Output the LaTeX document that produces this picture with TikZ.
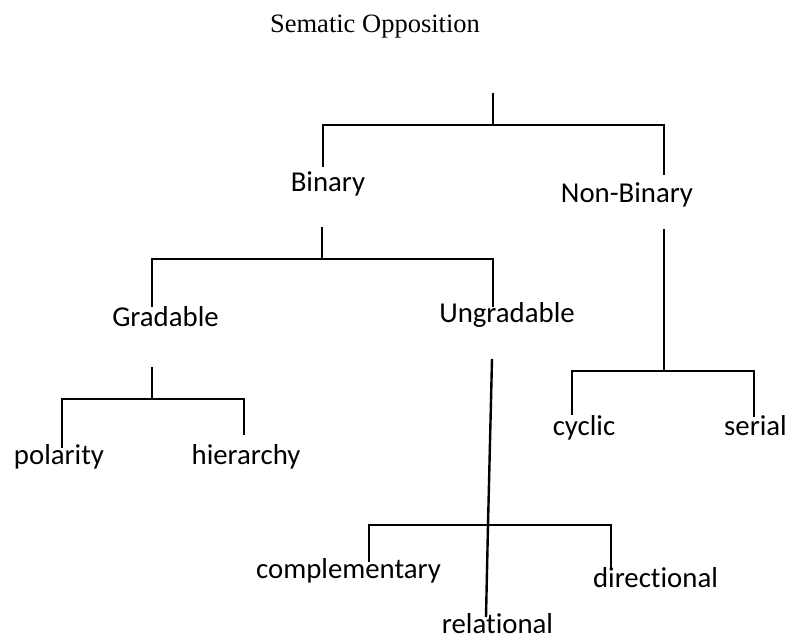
\documentclass[tikz,border=0pt]{standalone}
\usepackage{fontspec}
\setmainfont{Carlito}[Ligatures=NoCommon]
\newfontfamily\titlefont{Liberation Serif}

\begin{document}
\begin{tikzpicture}[x=1pt, y=-1pt,
        term/.style={anchor=base, inner sep=0pt, font=\fontsize{28.8}{34}\selectfont},
        branch/.style={line width=2.4pt}]
        \useasboundingbox (0,0) rectangle (789,639);

        \node[anchor=base, inner sep=0pt, font=\titlefont\fontsize{26.5}{32}\selectfont] (title) at (375,33) {Sematic Opposition};

        \node[term] (bin) at (328,192) {Binary};
        \node[term] (nbin) at (627,202) {Non-Binary};
        \node[term] (grad) at (165.5,326) {Gradable};
        \node[term] (ungr) at (507,322) {Ungradable};
        \node[term] (pol) at (59,464) {polarity};
        \node[term] (hier) at (246,464) {hierarchy};
        \node[term] (cyc) at (584,435) {cyclic};
        \node[term] (ser) at (755.5,435) {serial};
        \node[term] (comp) at (348.5,578) {complementary};
        \node[term] (dir) at (655.5,587) {directional};
        \node[term] (rel) at (497.5,633) {relational};

        % joints of the tree
        \coordinate (r0) at (493,93);
        \coordinate (r1) at (493,125);
        \coordinate (b0) at (322,227);
        \coordinate (b1) at (322,259);
        \coordinate (g0) at (152,367);
        \coordinate (g1) at (152,399);
        \coordinate (n0) at (664,229);
        \coordinate (n1) at (664,371);
        \coordinate (u0) at (492,359);
        \coordinate (u1) at (488,525);

        % ends in the labels
        \coordinate (bin-e) at (323,167);
        \coordinate (nbin-e) at (664,175);
        \coordinate (grad-e) at (152,307);
        \coordinate (ungr-e) at (493,307);
        \coordinate (pol-e) at (62,448);
        \coordinate (hier-e) at (244,435);
        \coordinate (cyc-e) at (572,415);
        \coordinate (ser-e) at (754,417);
        \coordinate (comp-e) at (369,562);
        \coordinate (dir-e) at (611,568);
        \coordinate (rel-e) at (486,617);

        \draw[branch] (r0) -- (r1);
        \draw[branch] (bin-e) |- (r1) -| (nbin-e);
        \draw[branch] (b0) -- (b1);
        \draw[branch] (grad-e) |- (b1) -| (ungr-e);
        \draw[branch] (g0) -- (g1);
        \draw[branch] (pol-e) |- (g1) -| (hier-e);
        \draw[branch] (n0) -- (n1);
        \draw[branch] (cyc-e) |- (n1) -| (ser-e);
        \draw[branch] (u0) -- (u1) -- (rel-e);
        \draw[branch] (comp-e) |- (u1) -| (dir-e);

    \end{tikzpicture}
\end{document}
